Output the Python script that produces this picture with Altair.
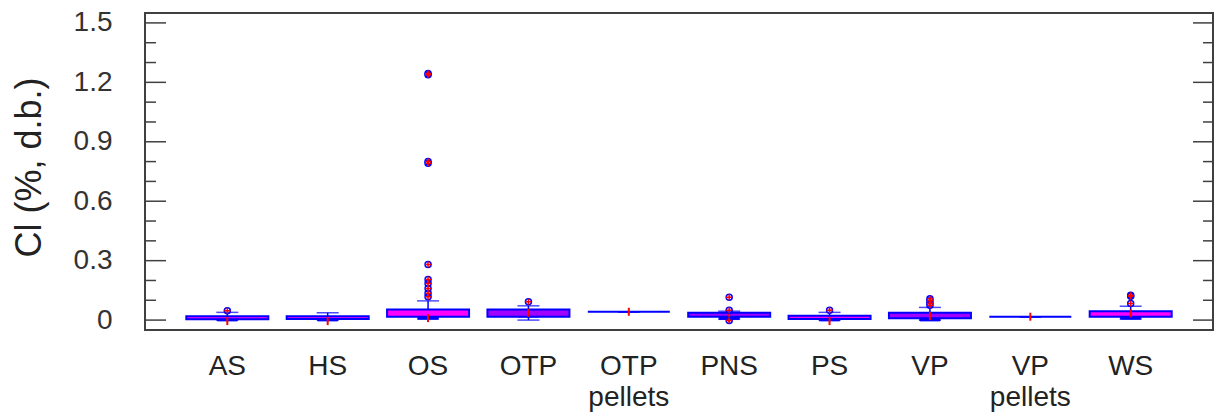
import altair as alt
import pandas as pd

# ---- data ----
categories = ["AS", "HS", "OS", "OTP", "OTP pellets", "PNS", "PS", "VP", "VP pellets", "WS"]
q1 = [0.004, 0.005, 0.017, 0.017, 0.042, 0.017, 0.005, 0.009, 0.017, 0.017]
q3 = [0.020, 0.020, 0.054, 0.054, 0.042, 0.037, 0.022, 0.037, 0.017, 0.045]
median = [-0.005, -0.005, 0.010, 0.037, 0.042, 0.010, -0.005, 0.020, 0.017, 0.034]
notch_lo = [-0.004, -0.004, 0.005, 0.017, 0.042, 0.004, -0.004, -0.004, 0.017, 0.005]
whisker_lo = [0.000, 0.000, 0.005, 0.000, 0.042, 0.004, 0.000, 0.000, 0.017, 0.005]
whisker_hi = [0.039, 0.037, 0.097, 0.072, 0.042, 0.045, 0.039, 0.064, 0.017, 0.070]

outlier_cat = (["AS"] + ["OS"] * 10 + ["OTP"] + ["PNS"] * 3 + ["PS"]
               + ["VP"] * 4 + ["WS"] * 3)
outlier_val = ([0.047]
               + [1.245, 1.238, 0.800, 0.792, 0.280, 0.205, 0.185, 0.160, 0.135, 0.118]
               + [0.092]
               + [0.115, 0.050, -0.002]
               + [0.050]
               + [0.108, 0.098, 0.085, 0.075]
               + [0.126, 0.120, 0.084])

major_ticks = [0, 0.3, 0.6, 0.9, 1.2, 1.5]
minor_ticks = [0.1, 0.2, 0.4, 0.5, 0.7, 0.8, 1.0, 1.1, 1.3, 1.4]

# boxes drawn in violet rather than magenta in the reference
violet_boxes = ["OTP", "PNS", "VP"]

# ---- tables ----
stats = pd.DataFrame({
    "cat": categories, "q1": q1, "q3": q3, "median": median,
    "notch_lo": notch_lo, "whisker_lo": whisker_lo, "whisker_hi": whisker_hi,
})
outliers = pd.DataFrame({"cat": outlier_cat, "val": outlier_val})
majors = pd.DataFrame({"t": major_ticks})
minors = pd.DataFrame({"t": minor_ticks})

W, H = 1068, 317
FONT = "Liberation Sans"
BLUE = "#0000ff"
MAG = "#ff00ff"
VIOLET = "#a000ff"
RED = "#ff0000"
AXC = "#404040"
TXT = "#333333"

xscale = alt.Scale(domain=categories, paddingInner=0, paddingOuter=0.32)
yscale = alt.Scale(domain=[-0.05, 1.55], nice=False, zero=False)

xaxis = alt.Axis(title=None, domain=False, ticks=False, grid=False, labelAngle=0,
                 labelExpr="split(datum.label, ' ')", labelFont=FONT,
                 labelFontSize=28, labelColor="#222222", labelPadding=22,
                 labelLineHeight=31, labelBaseline="top")
yaxis = alt.Axis(title="Cl (%, d.b.)", domain=False, ticks=False, tickSize=0, grid=False,
                 values=major_ticks, format=".1~f", labelFont=FONT, labelFontSize=28,
                 labelColor=TXT, labelPadding=33, titleFont=FONT, titleFontSize=36,
                 titleFontWeight="normal", titleColor="#222222", titleAngle=270,
                 titleX=-116, titleY=154, titleAlign="center", titleBaseline="middle")


def X():
    return alt.X("cat:N", scale=xscale, axis=xaxis, sort=categories)


def Y(field):
    return alt.Y(field, type="quantitative", scale=yscale, axis=yaxis)


base = alt.Chart(stats)

box = base.mark_bar(size=82, stroke=BLUE, strokeWidth=2, opacity=1).encode(
    x=X(), y=Y("q1"), y2="q3",
    fill=alt.condition(alt.FieldOneOfPredicate(field="cat", oneOf=violet_boxes),
                       alt.value(VIOLET), alt.value(MAG)))
notch = base.mark_bar(size=20, fill=BLUE, stroke=BLUE, strokeWidth=1).encode(
    x=X(), y=Y("notch_lo"), y2="q1")
wh_up = base.mark_rule(color=BLUE, strokeWidth=1.5).encode(
    x=X(), y=Y("q3"), y2="whisker_hi")
wh_lo = base.mark_rule(color=BLUE, strokeWidth=1.5).encode(
    x=X(), y=Y("whisker_lo"), y2="q1")
cap_up = base.mark_tick(color=BLUE, size=22, thickness=1.5).encode(
    x=X(), y=Y("whisker_hi"))
cap_lo = base.mark_tick(color=BLUE, size=22, thickness=1.5).encode(
    x=X(), y=Y("whisker_lo"))
med = base.mark_point(shape="M0,-1V1", size=64, filled=False, stroke=RED,
                      strokeWidth=2, opacity=1).encode(x=X(), y=Y("median"))

ob = alt.Chart(outliers)
out_c = ob.mark_point(shape="circle", size=36, filled=False, stroke=BLUE,
                      strokeWidth=1.5, opacity=1).encode(x=X(), y=Y("val"))
out_p = ob.mark_point(shape="M-1,0H1M0,-1V1", size=36, filled=False, stroke=RED,
                      strokeWidth=1.5, opacity=1).encode(x=X(), y=Y("val"))

# inward frame ticks, on the left and right sides
tk_major_l = alt.Chart(majors).mark_rule(color=AXC, strokeWidth=1.5).encode(
    y=Y("t"), x=alt.value(0), x2=alt.value(21))
tk_minor_l = alt.Chart(minors).mark_rule(color=AXC, strokeWidth=1.5).encode(
    y=Y("t"), x=alt.value(0), x2=alt.value(11))
tk_major_r = alt.Chart(majors).mark_rule(color=AXC, strokeWidth=1.5).encode(
    y=Y("t"), x=alt.value(W - 20), x2=alt.value(W))
tk_minor_r = alt.Chart(minors).mark_rule(color=AXC, strokeWidth=1.5).encode(
    y=Y("t"), x=alt.value(W - 10), x2=alt.value(W))

chart = alt.layer(
    tk_major_l, tk_minor_l, tk_major_r, tk_minor_r,
    box, notch, wh_up, wh_lo, cap_up, cap_lo, med, out_c, out_p,
).properties(
    width=W, height=H,
    autosize=alt.AutoSizeParams(type="none"),
    padding={"left": 145, "top": 13, "right": 1, "bottom": 84},
    background="white",
).configure_view(
    stroke=AXC, strokeWidth=2
)

chart.save("out.html", embed_options={"renderer": "svg", "actions": False})
